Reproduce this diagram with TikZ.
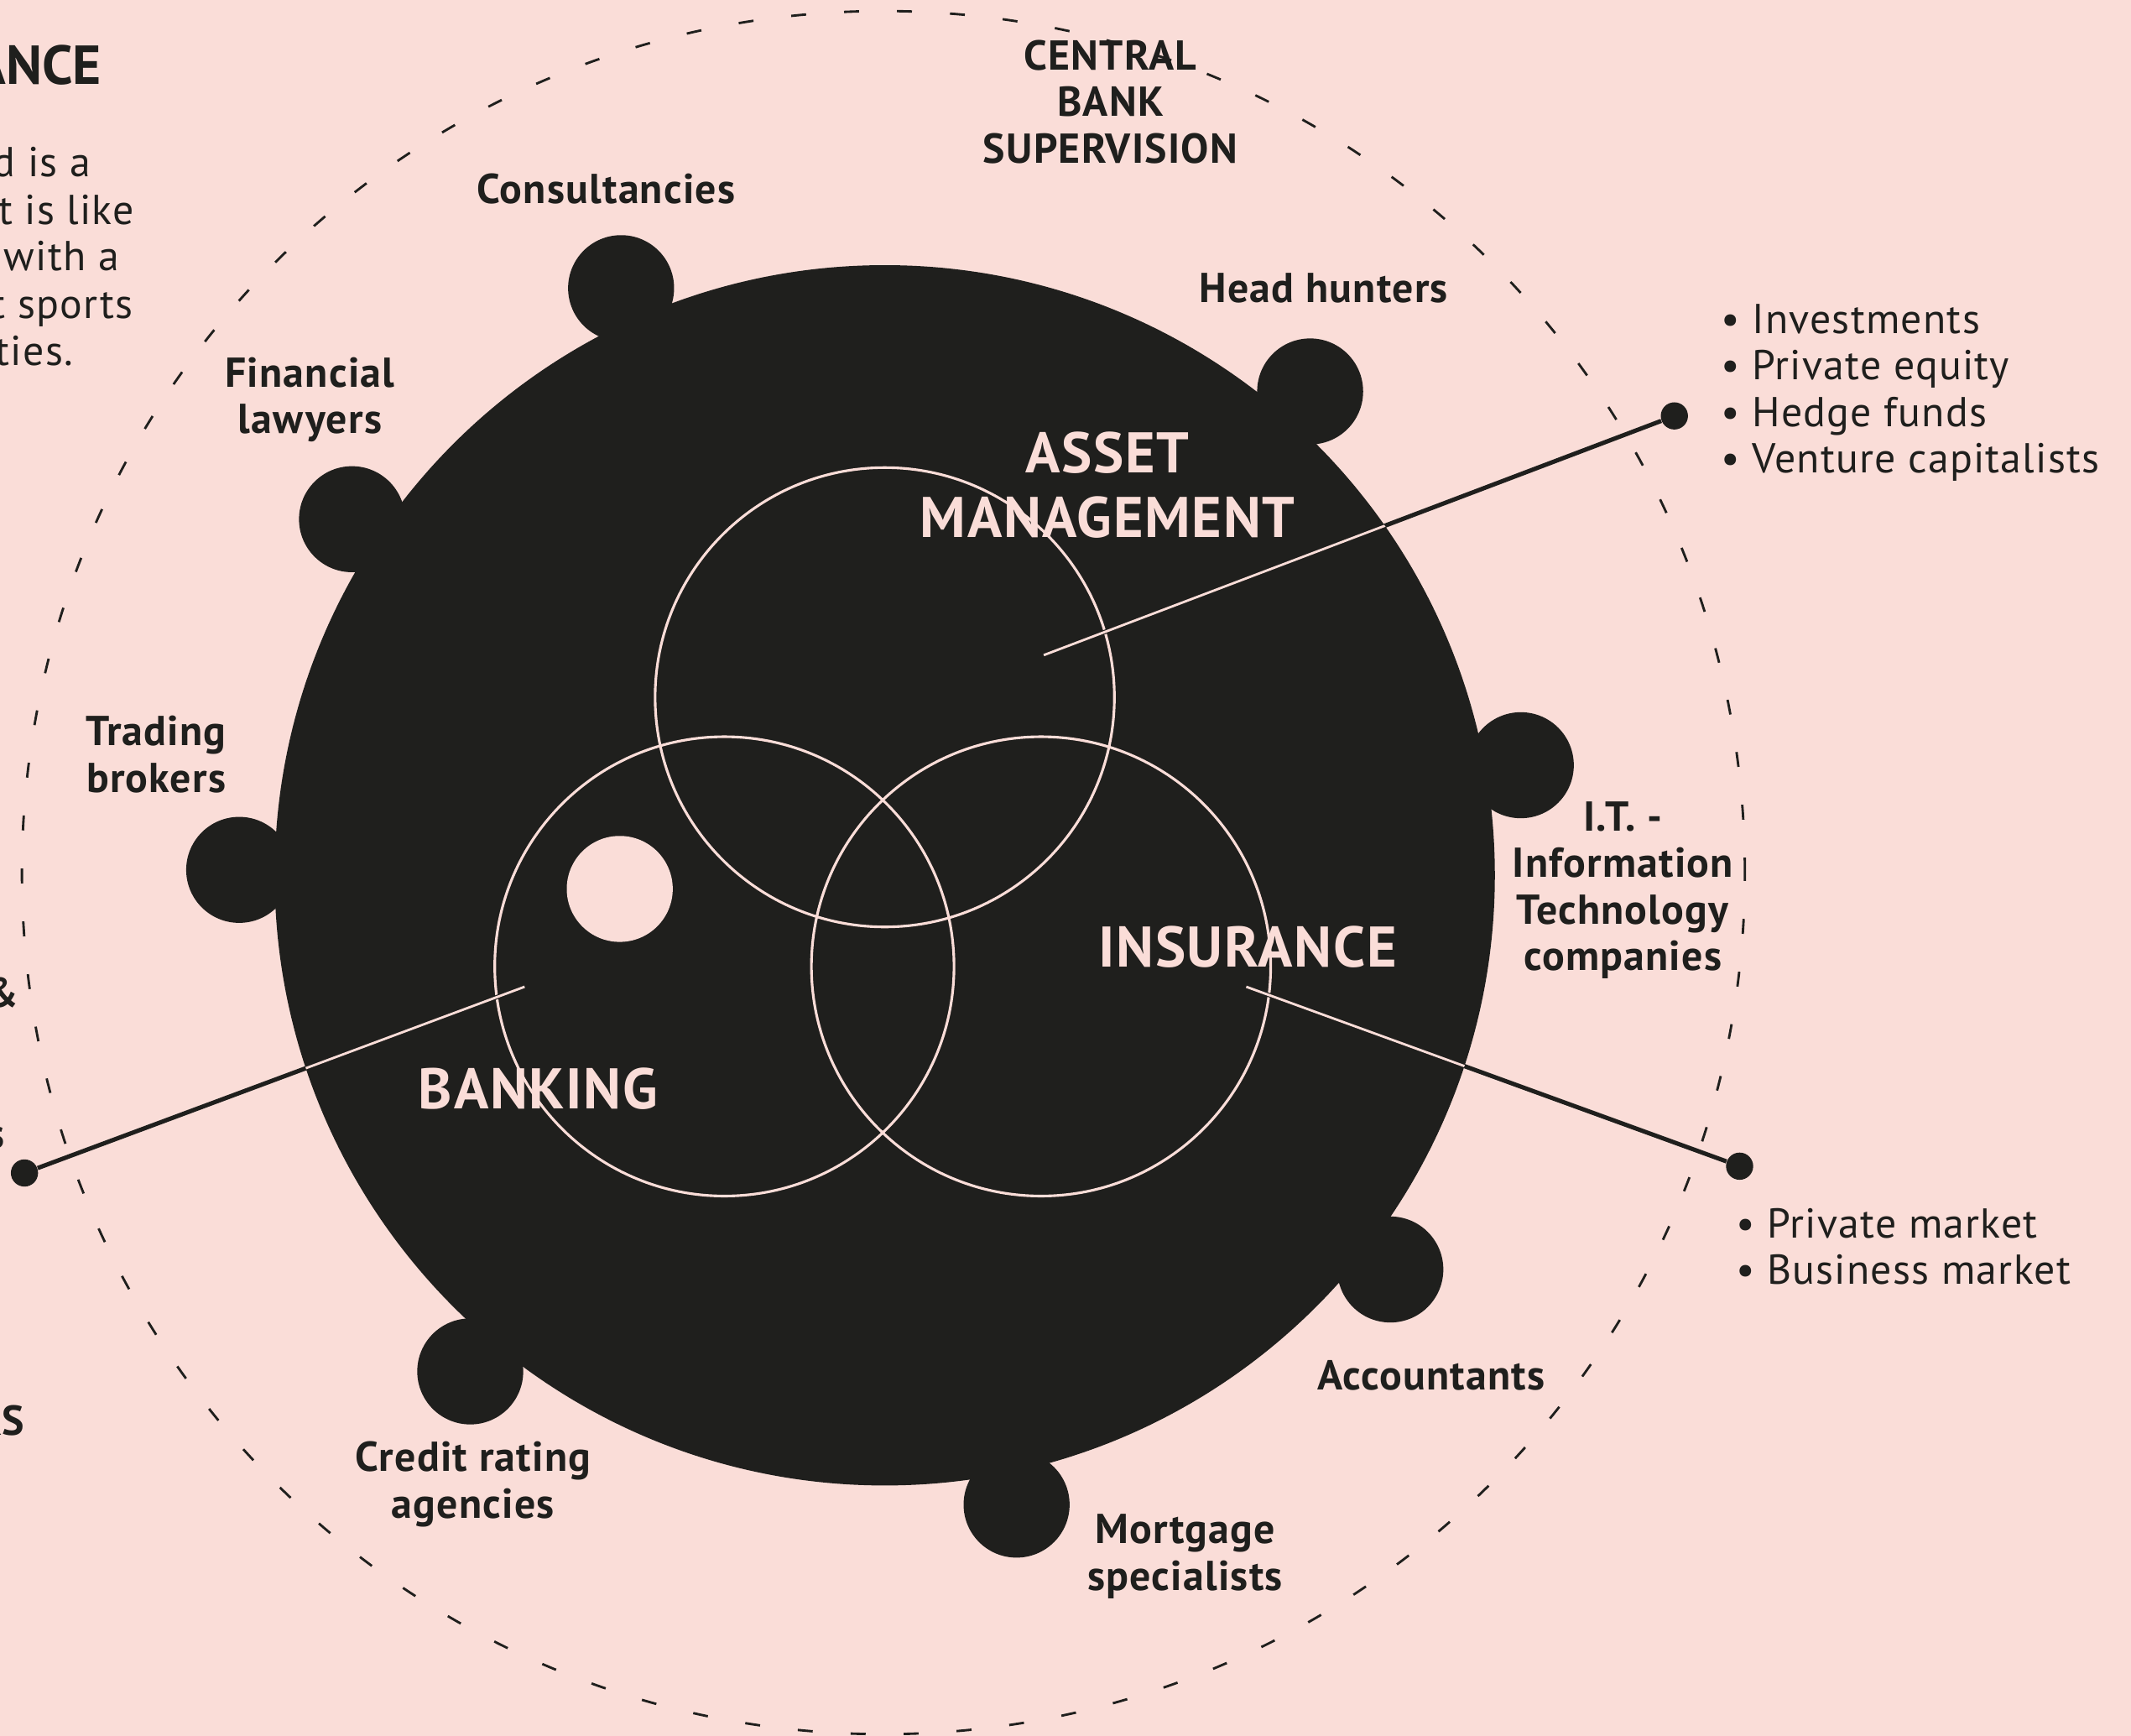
\documentclass[tikz,border=0pt]{standalone}
\usepackage{fontspec}
\setmainfont{PT Sans}
\usetikzlibrary{positioning}
\definecolor{blush}{RGB}{250,221,216}
\definecolor{ink}{RGB}{31,31,29}

\begin{document}
\begin{tikzpicture}[x=0.02cm, y=-0.02cm,
  bump/.style={circle, fill=ink, inner sep=0pt, minimum size=1.56cm},
  venn/.style={circle, draw=blush, line width=1.1pt, inner sep=0pt, minimum size=6.76cm},
  tag/.style={text=ink, font=\fontsize{17.5}{19.5}\selectfont\bfseries\addfontfeature{LetterSpace=2.5}, align=center, inner sep=0pt},
  sector/.style={text=blush, font=\fontsize{24}{27}\selectfont\bfseries\addfontfeature{LetterSpace=2.5}, align=center, inner sep=0pt},
  lead/.style={draw=ink, line width=1.8pt},
  leadin/.style={draw=blush, line width=1pt},
  pin/.style={circle, fill=ink, inner sep=0pt, minimum size=0.4cm},
  list/.style={text=ink, font=\fontsize{17.5}{19.5}\selectfont\addfontfeature{LetterSpace=2.5}, align=left, anchor=west, inner sep=0pt},
  cut/.style={text=ink, font=\fontsize{17.5}{19.5}\selectfont\addfontfeature{LetterSpace=2.5}, anchor=base east, inner sep=0pt}]
\fill[blush] (0,0) rectangle (1568,1277);
\useasboundingbox (0,0) rectangle (1568,1277);
\clip (0,0) rectangle (1568,1277);

\node (ring)[circle, draw=ink, line width=1pt, dash pattern=on 0.22cm off 0.56cm, minimum size=25.36cm, inner sep=0pt] at (650,642) {};

\node (cbump)[bump] at (457,212) {};
\node (hbump)[bump] at (964,288) {};
\node (fbump)[bump] at (259,382) {};
\node (tbump)[bump] at (176,640) {};
\node (ibump)[bump] at (1119,563) {};
\node (abump)[bump] at (1023,934) {};
\node (rbump)[bump] at (346,1009) {};
\node (mbump)[bump] at (748,1107) {};
\node (core)[circle, fill=ink, inner sep=0pt, minimum size=17.96cm] at (651,644) {};

\node (asset)[venn] at (651,513) {};
\node (bank)[venn] at (533,711) {};
\node (insur)[venn] at (766,711) {};
\node (spot)[circle, fill=blush, inner sep=0pt, minimum size=1.56cm] at (456,654) {};

\node (assetlbl)[sector] at (815,357) {ASSET\\MANAGEMENT};
\node (insurlbl)[sector] at (918,697) {INSURANCE};
\node (banklbl)[sector] at (396,801) {BANKING};

\coordinate (assetend) at (768,482);
\coordinate (insurend) at (917,726);
\coordinate (bankend) at (386,726);
\node (assetpin)[pin] at (1232,306) {};
\node (insurpin)[pin] at (1280,858) {};
\node (bankpin)[pin] at (18,863) {};
\draw [lead](assetend)--(assetpin);
\draw [lead](insurend)--(insurpin);
\draw [lead](bankend)--(bankpin);
\begin{scope}
\clip (651,644) circle [radius=8.98cm];
\draw [leadin](assetend)--(assetpin);
\draw [leadin](insurend)--(insurpin);
\draw [leadin](bankend)--(bankpin);
\end{scope}

\node (central)[tag] at (817,75) {CENTRAL\\BANK\\SUPERVISION};
\node (consult)[tag] at (446,139) {Consultancies};
\node (head)[tag] at (974,212) {Head hunters};
\node (lawyer)[tag] at (228,294) {Financial\\lawyers};
\node (trader)[tag] at (115,555) {Trading\\brokers};
\node (itco)[tag] at (1194,655) {I.T. -\\Information\\Technology\\companies};
\node (account)[tag] at (1053,1012) {Accountants};
\node (credit)[tag] at (348,1092) {Credit rating\\agencies};
\node (mortgage)[tag] at (872,1145) {Mortgage\\specialists};

\node (assetlist)[list] at (1266,289) {• Investments\\• Private equity\\• Hedge funds\\• Venture capitalists};
\node (insurlist)[list] at (1277,917) {• Private market\\• Business market};

\node (title)[cut, font=\fontsize{23}{26}\selectfont\bfseries] at (75,62) {ANCE};
\node (line1)[cut] at (67,130) {d is a};
\node (line2)[cut] at (99,165) {t is like};
\node (line3)[cut] at (88,199) {with a};
\node (line4)[cut] at (98,234) {t sports};
\node (line5)[cut] at (54,269) {ties.};
\node (amp)[cut, font=\fontsize{17.5}{19.5}\selectfont\bfseries] at (14,741) {\&};
\node (tail)[cut, font=\fontsize{17.5}{19.5}\selectfont\bfseries] at (4,845) {s};
\node (ks)[cut, font=\fontsize{17.5}{19.5}\selectfont\bfseries] at (18,1056) {KS};
\end{tikzpicture}
\end{document}
